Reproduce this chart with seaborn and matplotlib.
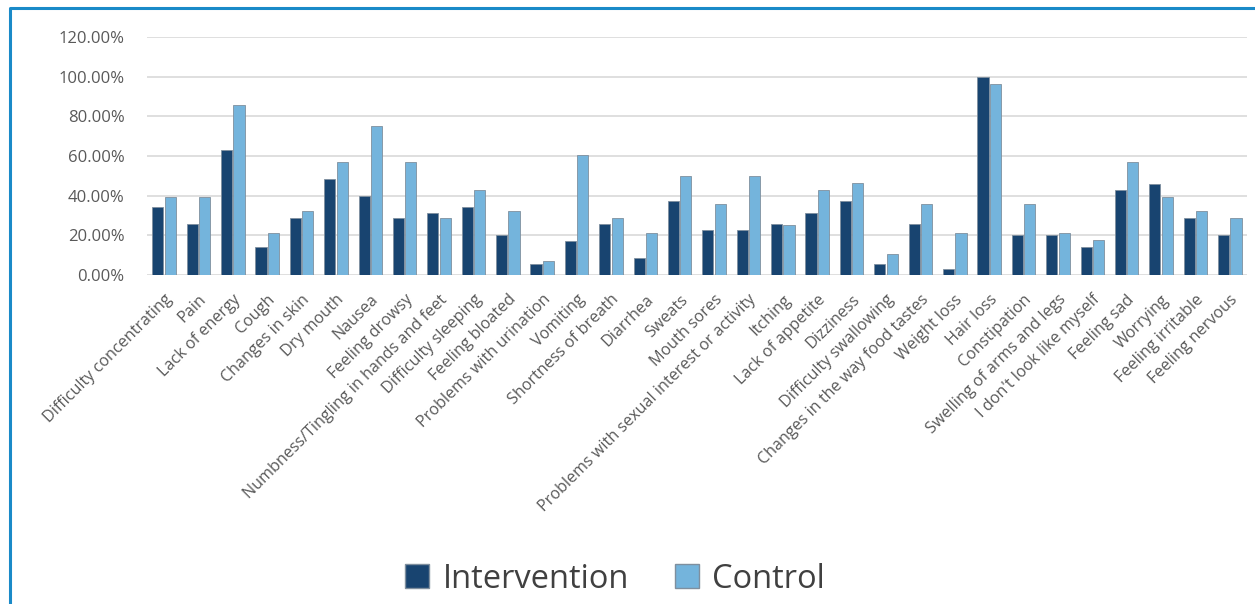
import seaborn as sns
import matplotlib.pyplot as plt
import matplotlib.patches as mpatches
import matplotlib.transforms as mtransforms
from matplotlib.lines import Line2D
from matplotlib.ticker import FuncFormatter
import pandas as pd

symptoms = ["Difficulty concentrating", "Pain", "Lack of energy", "Cough", "Changes in skin",
            "Dry mouth", "Nausea", "Feeling drowsy", "Numbness/Tingling in hands and feet",
            "Difficulty sleeping", "Feeling bloated", "Problems with urination", "Vomiting",
            "Shortness of breath", "Diarrhea", "Sweats", "Mouth sores",
            "Problems with sexual interest or activity", "Itching", "Lack of appetite",
            "Dizziness", "Difficulty swallowing", "Changes in the way food tastes",
            "Weight loss", "Hair loss", "Constipation", "Swelling of arms and legs",
            "I don't look like myself", "Feeling sad", "Worrying", "Feeling irritable",
            "Feeling nervous"]
intervention = [34.29, 25.71, 62.86, 14.29, 28.57, 48.57, 40.00, 28.57, 31.43, 34.29, 20.00,
                5.71, 17.14, 25.71, 8.57, 37.14, 22.86, 22.86, 25.71, 31.43, 37.14, 5.71,
                25.71, 2.86, 100.00, 20.00, 20.00, 14.29, 42.86, 45.71, 28.57, 20.00]
control = [39.29, 39.29, 85.71, 21.43, 32.14, 57.14, 75.00, 57.14, 28.57, 42.86, 32.14,
           7.14, 60.71, 28.57, 21.43, 50.00, 35.71, 50.00, 25.00, 42.86, 46.43, 10.71,
           35.71, 21.43, 96.43, 35.71, 21.43, 17.86, 57.14, 39.29, 32.14, 28.57]
groups = ["Intervention", "Control"]
colors = ["#184470", "#74b4dc"]

df = pd.DataFrame({"symptom": symptoms * 2,
                   "group": [groups[0]] * len(symptoms) + [groups[1]] * len(symptoms),
                   "value": intervention + control})

sns.set_style("white")
plt.rcParams['font.family'] = ['Open Sans', 'DejaVu Sans']

fig = plt.figure(figsize=(12.55, 6.04), dpi=100)
ax = fig.add_axes([0.117, 0.5447, 0.8766, 0.394])

sns.barplot(data=df, x="symptom", y="value", hue="group", hue_order=groups,
            palette=colors, saturation=1, width=0.72, gap=0.1, edgecolor="#7f8f9e",
            linewidth=0.6, legend=False, ax=ax)

ax.set_ylim(0, 120)
ax.set_yticks(range(0, 121, 20))
ax.yaxis.set_major_formatter(FuncFormatter(lambda v, p: f"{v:.2f}%"))
ax.set_xlim(-0.5, len(symptoms) - 0.5)
ax.grid(axis="y", color="#d9d9d9", linewidth=1.2)
ax.set_axisbelow(True)
for s in ax.spines.values():
    s.set_visible(False)
ax.set_xlabel("")
ax.set_ylabel("")
ax.tick_params(axis="y", labelsize=12, labelcolor="#595959", length=0, pad=16)
ax.tick_params(axis="x", labelsize=11.6, labelcolor="#595959", length=0, pad=12)
plt.setp(ax.get_xticklabels(), rotation=45, ha="right", rotation_mode="anchor")

handles = [mpatches.Patch(facecolor=c, edgecolor="#7f8f9e", label=g) for c, g in zip(colors, groups)]
fig.legend(handles=handles, loc="lower center", bbox_to_anchor=(0.49, -0.035), ncol=2,
           frameon=False, fontsize=23.5, handlelength=0.75, handleheight=0.75,
           handletextpad=0.4, columnspacing=1.4, labelcolor="#404040")

# blue frame around the chart
fig.add_artist(Line2D([10 / 1255, 10 / 1255, 1.0], [0.0, 1 - 8 / 604, 1 - 8 / 604],
                      transform=fig.transFigure, color="#1a8ac8", linewidth=2.2))

fig.savefig("out.png", dpi=100)
